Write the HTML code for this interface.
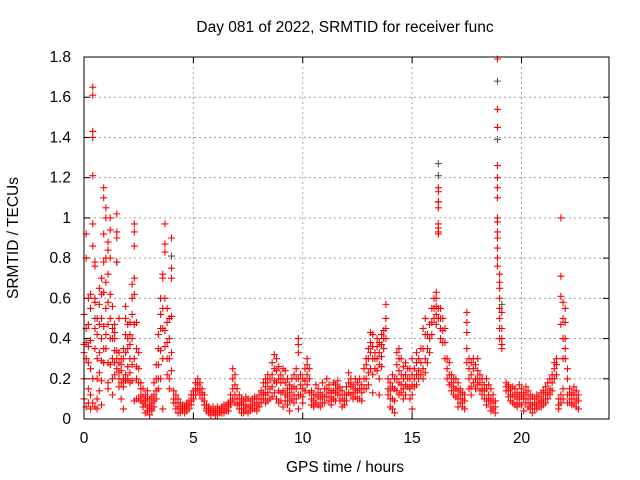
<!DOCTYPE html>
<html><head><meta charset="utf-8"><style>
body{margin:0;background:#fff}
svg{display:block;font-family:"Liberation Sans",sans-serif;font-size:15.5px}
</style></head><body>
<svg id="chart" width="640" height="480">
<rect width="640" height="480" fill="#fff"/>
<text x="345" y="32" text-anchor="middle">Day 081 of 2022, SRMTID for receiver func</text>
<text x="345" y="472" text-anchor="middle">GPS time / hours</text>
<text transform="translate(18,238) rotate(-90)" text-anchor="middle">SRMTID / TECUs</text>
<g id="grid"></g>
<g id="ticks"></g>
<g id="blk"></g>
<g id="red"></g>
<rect x="84" y="57" width="525" height="362" fill="none" stroke="#000" stroke-width="1"/>
</svg>
<script>
const xTicks=[0,5,10,15,20];
const yTicks=[0,0.2,0.4,0.6,0.8,1,1.2,1.4,1.6,1.8];
const yTickLabels=["0","0.2","0.4","0.6","0.8","1","1.2","1.4","1.6","1.8"];
const hours=[0.0,0.1,0.2,0.3,0.4,0.5,0.6,0.7,0.8,0.9,1.0,1.1,1.2,1.3,1.4,1.5,1.6,1.7,1.8,1.9,2.0,2.1,2.2,2.3,2.4,2.5,2.6,2.7,2.8,2.9,3.0,3.1,3.2,3.3,3.4,3.5,3.6,3.7,3.8,3.9,4.0,4.1,4.2,4.3,4.4,4.5,4.6,4.7,4.8,4.9,5.0,5.1,5.2,5.3,5.4,5.5,5.6,5.7,5.8,5.9,6.0,6.1,6.2,6.3,6.4,6.5,6.6,6.7,6.8,6.9,7.0,7.1,7.2,7.3,7.4,7.5,7.6,7.7,7.8,7.9,8.0,8.1,8.2,8.3,8.4,8.5,8.6,8.7,8.8,8.9,9.0,9.1,9.2,9.3,9.4,9.5,9.6,9.7,9.8,9.9,10.0,10.1,10.2,10.3,10.4,10.5,10.6,10.7,10.8,10.9,11.0,11.1,11.2,11.3,11.4,11.5,11.6,11.7,11.8,11.9,12.0,12.1,12.2,12.3,12.4,12.5,12.6,12.7,12.8,12.9,13.0,13.1,13.2,13.3,13.4,13.5,13.6,13.7,13.8,13.9,14.0,14.1,14.2,14.3,14.4,14.5,14.6,14.7,14.8,14.9,15.0,15.1,15.2,15.3,15.4,15.5,15.6,15.7,15.8,15.9,16.0,16.1,16.2,16.3,16.4,16.5,16.6,16.7,16.8,16.9,17.0,17.1,17.2,17.3,17.4,17.5,17.6,17.7,17.8,17.9,18.0,18.1,18.2,18.3,18.4,18.5,18.6,18.7,18.8,18.9,19.0,19.1,19.3,19.4,19.5,19.6,19.7,19.8,19.9,20.0,20.1,20.2,20.3,20.4,20.5,20.6,20.7,20.8,20.9,21.0,21.1,21.2,21.3,21.4,21.5,21.6,21.7,21.8,21.9,22.0,22.1,22.2,22.3,22.4,22.5,22.6];
const tecu=[
[0.33,0.37,0.1,0.2,0.52],[0.8,0.92,0.3,0.06,0.45,0.38],[0.6,0.28,0.08,0.15,0.47,0.36],[0.62,0.55,0.39,0.12,0.05,0.25],
[1.65,1.61,1.43,1.4,1.21,0.97,0.86,0.2,0.08],[0.78,0.76,0.6,0.58,0.45,0.35,0.06],[0.5,0.42,0.3,0.2,0.1,0.05],[0.65,0.57,0.47,0.33,0.23,0.14],
[0.7,0.62,0.5,0.4,0.29,0.19,0.07],[1.15,1.1,0.92,0.78,0.63,0.46,0.35,0.28],[1.05,1.0,0.8,0.68,0.55,0.42,0.35],[0.88,0.84,0.72,0.58,0.47,0.28,0.18,0.15],
[1.0,0.94,0.8,0.62,0.5,0.4,0.27],[0.56,0.45,0.4,0.3,0.2,0.12],[0.47,0.43,0.4,0.34,0.28,0.22],[1.02,0.93,0.9,0.78,0.34,0.3,0.25],
[0.5,0.33,0.28,0.23,0.2,0.16],[0.3,0.27,0.24,0.18,0.1],[0.35,0.3,0.2,0.16,0.05],[0.56,0.5,0.42,0.33,0.22,0.19],
[0.47,0.4,0.35,0.26,0.2],[0.48,0.42,0.37,0.3,0.23,0.18],[0.67,0.6,0.52,0.4,0.27,0.19],[0.97,0.93,0.86,0.7,0.62,0.47,0.3,0.09],
[0.48,0.35,0.26,0.2,0.1],[0.33,0.25,0.18,0.1],[0.18,0.15,0.12,0.09],[0.15,0.11,0.08,0.06],[0.12,0.09,0.07,0.03],[0.14,0.1,0.06,0.04],
[0.1,0.07,0.05,0.02],[0.11,0.08,0.05,0.04],[0.18,0.12,0.09,0.06],[0.27,0.2,0.14,0.1],[0.42,0.35,0.27,0.2,0.15],[0.6,0.52,0.45,0.34,0.2],
[0.72,0.7,0.55,0.45,0.3,0.05],[0.97,0.87,0.83,0.6,0.44,0.36],[0.55,0.48,0.38,0.3,0.22],[0.5,0.4,0.3,0.2,0.15],[0.9,0.75,0.7,0.51,0.33,0.24],
[0.14,0.1,0.08],[0.12,0.08,0.05],[0.1,0.06,0.03],[0.08,0.05,0.03],[0.07,0.05,0.04],[0.06,0.05,0.03],[0.08,0.06,0.04],[0.09,0.07,0.05],
[0.12,0.09,0.07],[0.14,0.12,0.1],[0.18,0.15,0.12],[0.2,0.17,0.14],[0.18,0.15,0.12],[0.15,0.13,0.1],[0.12,0.09,0.07],[0.07,0.05,0.04],
[0.06,0.04,0.03],[0.05,0.04,0.02],[0.06,0.04,0.03],[0.05,0.03,0.02],[0.06,0.04,0.02],[0.05,0.04,0.03],[0.06,0.05,0.03],[0.07,0.05,0.03],
[0.07,0.05,0.04],[0.08,0.06,0.04],[0.12,0.09,0.07],[0.25,0.2,0.15,0.1],[0.22,0.17,0.12,0.08],[0.15,0.1,0.07],[0.12,0.08,0.05],
[0.1,0.07,0.05,0.03],[0.09,0.07,0.05,0.03],[0.11,0.07,0.04],[0.1,0.06,0.03],[0.09,0.06,0.04],[0.1,0.07,0.05],[0.11,0.08,0.05],[0.1,0.07,0.04],
[0.12,0.08,0.06],[0.14,0.1,0.08],[0.18,0.13,0.1],[0.2,0.16,0.12,0.08],[0.22,0.18,0.13,0.09],[0.2,0.15,0.1],[0.28,0.22,0.16,0.11],
[0.32,0.25,0.19,0.13],[0.3,0.24,0.18,0.1],[0.26,0.2,0.14,0.08],[0.22,0.18,0.13,0.09],[0.25,0.2,0.14,0.06],[0.24,0.18,0.12,0.09],
[0.2,0.15,0.11,0.07],[0.17,0.13,0.09,0.04],[0.2,0.15,0.1],[0.22,0.16,0.12,0.08],[0.25,0.2,0.15,0.1],[0.4,0.37,0.33,0.2,0.12,0.05],
[0.22,0.17,0.12],[0.2,0.15,0.11,0.08],[0.25,0.19,0.14],[0.3,0.27,0.22,0.17],[0.25,0.2,0.13],[0.14,0.1,0.07],[0.12,0.09,0.06],
[0.17,0.12,0.08],[0.15,0.11,0.07],[0.13,0.1,0.06],[0.18,0.12,0.08],[0.15,0.11,0.08],[0.2,0.15,0.11],[0.17,0.13,0.09],[0.14,0.11,0.07],
[0.18,0.14,0.1],[0.17,0.13,0.09],[0.19,0.15,0.12],[0.16,0.12,0.09],[0.14,0.1,0.06],[0.12,0.09,0.07],[0.16,0.12,0.09],[0.23,0.18,0.13],
[0.2,0.16,0.12],[0.17,0.13,0.1],[0.2,0.15,0.11],[0.18,0.14,0.1],[0.2,0.15,0.1],[0.17,0.13,0.09],[0.25,0.2,0.15],[0.3,0.27,0.2,0.15],
[0.35,0.3,0.23,0.17],[0.43,0.38,0.33,0.25],[0.42,0.36,0.3,0.22,0.13],[0.33,0.3,0.25],[0.4,0.36,0.3,0.24],[0.38,0.33,0.27,0.2,0.12],
[0.42,0.37,0.31,0.26],[0.44,0.4,0.35],[0.57,0.5,0.45,0.4],[0.2,0.15,0.12],[0.18,0.14,0.1,0.06],[0.22,0.16,0.1,0.05],[0.2,0.15,0.09,0.03],
[0.33,0.27,0.2,0.14],[0.35,0.3,0.24,0.18,0.12],[0.3,0.22,0.17,0.13],[0.26,0.2,0.15,0.1],[0.28,0.22,0.17,0.12],[0.25,0.2,0.16],
[0.25,0.2,0.15,0.1],[0.3,0.22,0.17,0.12,0.05],[0.25,0.2,0.16],[0.33,0.28,0.22,0.17],[0.3,0.24,0.2],[0.35,0.28,0.22],[0.45,0.35,0.25,0.2],
[0.5,0.42,0.3,0.23],[0.42,0.35,0.28],[0.47,0.4,0.33],[0.55,0.48,0.42],[0.6,0.55,0.5],[0.63,0.6,0.56,0.52,0.47],
[1.15,1.13,1.08,1.05,0.97,0.95,0.93,0.92,0.55,0.5],[0.55,0.5,0.45,0.4],[0.5,0.44,0.38],[0.45,0.38,0.3],[0.3,0.25,0.2],[0.28,0.22,0.17],
[0.22,0.18,0.14],[0.2,0.16,0.12],[0.2,0.15,0.11],[0.18,0.14,0.1,0.06],[0.15,0.12,0.08],[0.13,0.1,0.06],[0.12,0.09,0.05],
[0.53,0.48,0.43,0.35,0.28],[0.3,0.25,0.2,0.15],[0.28,0.22,0.16,0.12],[0.3,0.25,0.18],[0.27,0.2,0.15],[0.3,0.24,0.2,0.17],[0.22,0.18,0.14],
[0.2,0.15,0.12],[0.17,0.14,0.1],[0.2,0.15,0.1,0.07],[0.17,0.12,0.09],[0.15,0.1,0.06,0.04],[0.12,0.08,0.05],[0.09,0.06,0.03],
[1.79,1.54,1.45,1.26,1.2,1.15,1.1,1.0,0.98,0.93,0.9,0.85,0.8,0.76],[0.72,0.68,0.65,0.6,0.55,0.5,0.45,0.4],[0.53,0.45,0.4,0.37,0.35],
[0.18,0.16,0.14],[0.17,0.14,0.11],[0.15,0.12,0.09],[0.16,0.12,0.08],[0.15,0.11,0.07],[0.13,0.1,0.06],[0.17,0.12,0.08],[0.15,0.11,0.07],
[0.13,0.1,0.04],[0.16,0.12,0.08],[0.14,0.1,0.06],[0.12,0.08,0.05],[0.11,0.07,0.03],[0.1,0.07,0.05],[0.12,0.08,0.05],[0.11,0.08,0.06],
[0.13,0.09,0.06],[0.14,0.1,0.07],[0.16,0.12,0.08],[0.18,0.13,0.1],[0.2,0.15,0.12],[0.22,0.18,0.14],[0.28,0.25,0.2],[0.3,0.27,0.22],
[0.1,0.07,0.05],[1.0,0.71,0.61,0.47,0.12,0.08],[0.58,0.5,0.4,0.3,0.15,0.1],[0.55,0.48,0.4,0.35,0.3],[0.25,0.2,0.12,0.08],
[0.15,0.12,0.08],[0.13,0.1,0.07],[0.16,0.12,0.08],[0.14,0.1,0.06],[0.12,0.09,0.05]];
const blackHours=[0.5,1.5,4.0,16.2,16.2,16.2,18.9,18.9,19.1];
const blackTecu=[0.5,0.78,0.81,1.27,1.21,1.08,1.68,1.39,0.57];

const X0=84,X1=609,Y0=419,Y1=57,XMAX=24,YMAX=1.8;
const xs=h=>X0+(X1-X0)*h/XMAX;
const ys=v=>Y0-(Y0-Y1)*v/YMAX;
const NS="http://www.w3.org/2000/svg";
function mk(tag,attrs,parent){const e=document.createElementNS(NS,tag);for(const k in attrs)e.setAttribute(k,attrs[k]);parent.appendChild(e);return e;}
const grid=document.getElementById('grid'),ticks=document.getElementById('ticks');
xTicks.forEach(t=>{
  const x=xs(t);
  if(t>0){const g=mk('line',{x1:x,x2:x,y1:Y0,y2:Y1,stroke:'#a0a0a0','stroke-dasharray':'2,3'},grid);
  
  }
  mk('line',{x1:x,x2:x,y1:Y0,y2:Y0-6,stroke:'#000'},ticks);
  mk('line',{x1:x,x2:x,y1:Y1,y2:Y1+6,stroke:'#000'},ticks);
  const l=mk('text',{x:x,y:443,'text-anchor':'middle'},ticks);l.textContent=t;
  
  
});
yTicks.forEach((t,i)=>{
  const y=ys(t);
  if(t>0&&t<1.8){const g=mk('line',{x1:X0,x2:X1,y1:y,y2:y,stroke:'#a0a0a0','stroke-dasharray':'2,3'},grid);
  
  }
  mk('line',{x1:X0,x2:X0+6,y1:y,y2:y,stroke:'#000'},ticks);
  mk('line',{x1:X1,x2:X1-6,y1:y,y2:y,stroke:'#000'},ticks);
  const l=mk('text',{x:71,y:y+5,'text-anchor':'end'},ticks);l.textContent=yTickLabels[i];
  
  
});
function plus(parent,h,v,color){
  const x=xs(h),y=ys(v);
  const p=mk('path',{d:`M${x-3.5},${y}H${x+3.5}M${x},${y-3.5}V${y+3.5}`,stroke:color,'stroke-width':1.1,fill:'none'},parent);
  
  
}
const red=document.getElementById('red'),blk=document.getElementById('blk');
hours.forEach((h,i)=>{(tecu[i]||[]).forEach(v=>plus(red,h,v,'#ff0000'));});
blackHours.forEach((h,i)=>plus(blk,h,blackTecu[i],'#555'));
</script>
</body></html>
